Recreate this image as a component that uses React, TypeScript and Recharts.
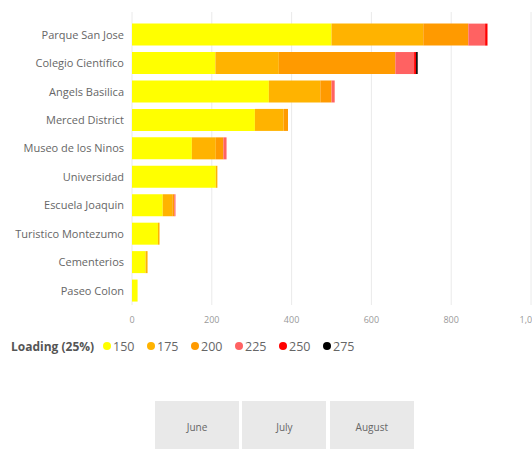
import React from 'react';
import { BarChart, Bar, XAxis, YAxis, CartesianGrid } from 'recharts';

const categories = ['Parque San Jose', 'Colegio Científico', 'Angels Basilica', 'Merced District', 'Museo de los Ninos', 'Universidad', 'Escuela Joaquin', 'Turistico Montezumo', 'Cementerios', 'Paseo Colon'];
const s150 = [500, 209, 343, 308, 150, 210, 77, 65, 34, 14];
const s175 = [230, 159, 129, 72, 60, 4, 24, 4, 5, 0];
const s200 = [113, 292, 28, 11, 19, 0, 5, 0, 0, 0];
const s225 = [42, 47, 8, 0, 8, 0, 3, 0, 0, 0];
const s250 = [6, 5, 0, 0, 0, 0, 0, 0, 0, 0];
const s275 = [0, 4, 0, 0, 0, 0, 0, 0, 0, 0];
const xTicks = [0, 200, 400, 600, 800, 1000];
const months = ['June', 'July', 'August'];
const legendTitle = 'Loading (25%)';

const seriesKeys = ['150', '175', '200', '225', '250', '275'];
const seriesValues = [s150, s175, s200, s225, s250, s275];
const seriesColors = ['#FFFF00', '#FFB300', '#FF9A00', '#FF6262', '#FF0000', '#000000'];

const data = categories.map((name, i) => {
  const row: Record<string, string | number> = { name };
  seriesKeys.forEach((k, j) => {
    row[k] = seriesValues[j][i];
  });
  return row;
});

const FONT = '"Open Sans", "Noto Sans", sans-serif';

const fmt = (v: number) => (v >= 1000 ? v.toLocaleString('en-US') : String(v));

const CategoryTick = (props: any) => {
  const { x, y, payload } = props;
  return (
    <text x={x} y={y} dy="0.35em" textAnchor="end" fontSize={11} fill="#666" fontFamily={FONT}>
      {payload.value}
    </text>
  );
};

export default function App() {
  return (
    <div style={{ position: 'absolute', left: 0, top: 0, width: 532, height: 449, background: '#fff', overflow: 'hidden', fontFamily: FONT }}>
      <BarChart
        width={532}
        height={332}
        data={data}
        layout="vertical"
        margin={{ top: 12, right: 1, bottom: 0, left: 0 }}
        barSize={22}
      >
        <CartesianGrid horizontal={false} stroke="#EAEAEA" strokeWidth={1} />
        <XAxis
          type="number"
          domain={[0, 1000]}
          ticks={xTicks}
          tickFormatter={fmt}
          axisLine={false}
          tickLine={false}
          height={27}
          tickMargin={6}
          tick={{ fontSize: 9, fill: '#999', fontFamily: FONT }}
          interval={0}
        />
        <YAxis
          type="category"
          dataKey="name"
          width={132}
          axisLine={false}
          tickLine={false}
          padding={{ top: 8.6, bottom: 0 }}
          tick={<CategoryTick />}
          interval={0}
        />
        {seriesKeys.map((k, j) => (
          <Bar key={k} dataKey={k} stackId="a" fill={seriesColors[j]} isAnimationActive={false} />
        ))}
      </BarChart>
      <div style={{ position: 'absolute', left: 11, top: 336, height: 20, display: 'flex', alignItems: 'center', fontFamily: FONT }}>
        <span style={{ fontWeight: 700, fontSize: 12, color: '#555', width: 92 }}>{legendTitle}</span>
        {seriesKeys.map((k, j) => (
          <span key={k} style={{ display: 'flex', alignItems: 'center', width: 44 }}>
            <span style={{ width: 8, height: 8, borderRadius: 4, background: seriesColors[j], marginRight: 2 }} />
            <span style={{ fontSize: 12.5, color: '#666' }}>{k}</span>
          </span>
        ))}
      </div>
      {months.map((m, i) => (
        <div
          key={m}
          style={{
            position: 'absolute',
            left: 155 + i * 87.4,
            top: 401,
            width: 84,
            height: 60,
            background: '#E9E9E9',
            display: 'flex',
            justifyContent: 'center',
            paddingTop: 19,
            boxSizing: 'border-box',
            fontSize: 10,
            color: '#666',
            fontFamily: FONT,
          }}
        >
          {m}
        </div>
      ))}
    </div>
  );
}
